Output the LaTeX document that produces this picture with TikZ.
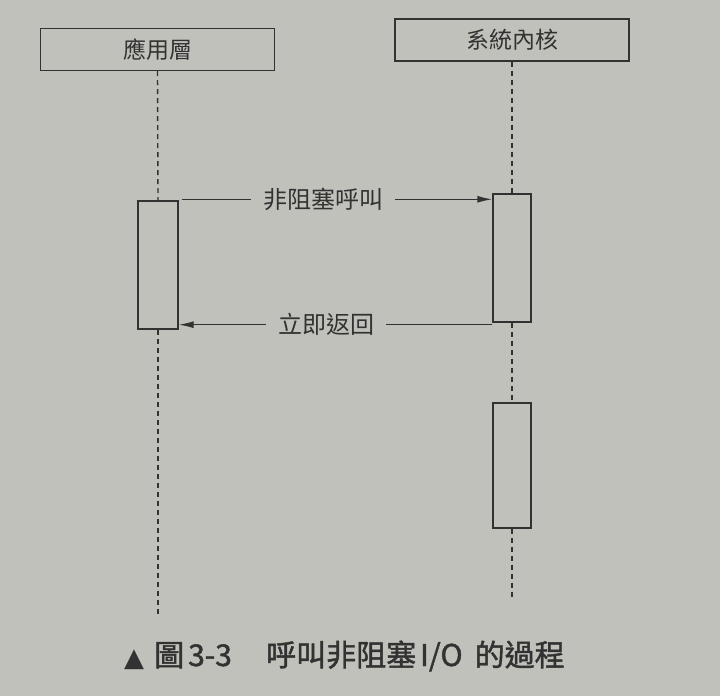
\documentclass[tikz,border=0pt]{standalone}
\usepackage{fontspec}
\usetikzlibrary{arrows.meta}
\newfontfamily\cjk{Noto Sans CJK TC}
\newfontfamily\cjkcap[FakeBold=1.5]{Noto Sans CJK TC}
\newfontfamily\sym{DejaVu Sans}
\definecolor{paper}{RGB}{193,193,188}
\definecolor{ink}{RGB}{50,50,50}
\tikzset{
  lane/.style={draw=ink, line width=1.4pt, fill=paper, minimum width=234pt, minimum height=42pt, font=\cjk\fontsize{23}{23}\selectfont, text=ink, inner sep=0pt},
  actbox/.style={draw=ink, line width=1.4pt, fill=paper, minimum width=40pt, inner sep=0pt},
  life/.style={draw=ink, line width=1.4pt, dash pattern=on 5pt off 4pt},
  msg/.style={draw=ink, line width=1.4pt, -{Latex[length=15pt,width=7pt]}},
  msglabel/.style={fill=paper, inner xsep=12pt, inner ysep=2pt, font=\cjk\fontsize{24}{24}\selectfont, text=ink},
  captext/.style={anchor=base west, inner sep=0pt, text=ink, font=\cjkcap\fontsize{30}{30}\selectfont},
}
\begin{document}
\begin{tikzpicture}[x=1pt,y=-1pt]
\fill[paper] (0,0) rectangle (720,696);
\useasboundingbox (0,0) rectangle (720,696);

\node[lane] (app) at (157.5,49.5) {應用層};
\node[lane] (ker) at (512,40) {系統內核};

\node[actbox, minimum height=128pt] (la) at (158,265) {};
\node[actbox, minimum width=38pt, minimum height=128pt] (ra1) at (512,258) {};
\node[actbox, minimum width=38pt, minimum height=125pt] (ra2) at (512,465.5) {};

\coordinate (lend) at (158,615);
\coordinate (rend) at (512,600);

\draw[life] (app.south) -- (la.north);
\draw[life] (la.south) -- (lend);
\draw[life] (ker.south) -- (ra1.north);
\draw[life] (ra1.south) -- (ra2.north);
\draw[life] (ra2.south) -- (rend);

\draw[msg] ([xshift=3pt,yshift=1pt]la.north east) -- ([yshift=1pt]ra1.west |- la.north east)
  node[msglabel, pos=0.455] (l1) {非阻塞呼叫};
\draw[msg] ([yshift=-2pt]ra1.south west) -- ([yshift=-2pt]la.east |- ra1.south west)
  node[msglabel, pos=0.53] (l2) {立即返回};

\node[captext, font=\sym\fontsize{26}{26}\selectfont] (capmark) at (124,666) {▲};
\node[captext] (capnum) at (154,666) {圖\hspace{4pt}3-3};
\node[captext] (captitle) at (266,666) {呼叫非阻塞\hspace{4pt}I/O\hspace{12pt}的過程};
\end{tikzpicture}
\end{document}
